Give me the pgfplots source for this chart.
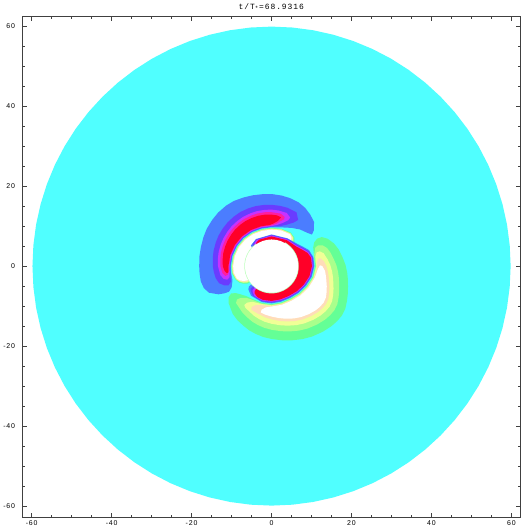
\documentclass[border=0pt]{standalone}
\usepackage{fontspec}
\setmainfont{Liberation Mono}
\newfontfamily\monosp[LetterSpace=12]{Liberation Mono}
\newfontfamily\ticksf[LetterSpace=12]{Liberation Sans}
\usepackage{pgfplots}
\pgfplotsset{compat=1.18}
\definecolor{cy}{RGB}{80,255,255}
\definecolor{cblue}{RGB}{75,125,255}
\definecolor{cviol}{RGB}{105,60,255}
\definecolor{cmag}{RGB}{200,50,255}
\definecolor{cpink}{RGB}{255,30,160}
\definecolor{cred}{RGB}{255,0,40}
\definecolor{cgreen}{RGB}{100,255,150}
\definecolor{clgreen}{RGB}{170,255,140}
\definecolor{cyel}{RGB}{240,255,150}
\definecolor{cpeach}{RGB}{255,220,185}
\definecolor{cring}{RGB}{190,255,190}
\begin{document}
\begin{tikzpicture}
\begin{axis}[
  width=500.5pt, height=503pt, scale only axis,
  xmin=-62.4, xmax=62.3, ymin=-62.7, ymax=62.4,
  xtick={-60,-40,-20,0,20,40,60}, ytick={-60,-40,-20,0,20,40,60},
  minor tick num=3,
  tick align=inside,
  major tick length=4.5pt, minor tick length=2.5pt,
  axis line style={line width=0.5pt, black!75},
  tick style={black!75, line width=0.5pt},
  tick label style={font=\ticksf\fontsize{7}{8}\selectfont, black},
  yticklabel style={xshift=-3.5pt},
  /pgf/number format/assume math mode=true,
  title={t/T\textsubscript{*}=68.9316},
  title style={font=\monosp\fontsize{8}{9}\selectfont, yshift=-4pt},
  every axis plot/.append style={data cs=polar, draw=none},
]
% outer disk
\addplot[fill=cy] coordinates {(0,59.8)(5,59.8)(10,59.8)(15,59.8)(20,59.8)(25,59.8)(30,59.8)(35,59.8)(40,59.8)(45,59.8)(50,59.8)(55,59.8)(60,59.8)(65,59.8)(70,59.8)(75,59.8)(80,59.8)(85,59.8)(90,59.8)(95,59.8)(100,59.8)(105,59.8)(110,59.8)(115,59.8)(120,59.8)(125,59.8)(130,59.8)(135,59.8)(140,59.8)(145,59.8)(150,59.8)(155,59.8)(160,59.8)(165,59.8)(170,59.8)(175,59.8)(180,59.8)(185,59.8)(190,59.8)(195,59.8)(200,59.8)(205,59.8)(210,59.8)(215,59.8)(220,59.8)(225,59.8)(230,59.8)(235,59.8)(240,59.8)(245,59.8)(250,59.8)(255,59.8)(260,59.8)(265,59.8)(270,59.8)(275,59.8)(280,59.8)(285,59.8)(290,59.8)(295,59.8)(300,59.8)(305,59.8)(310,59.8)(315,59.8)(320,59.8)(325,59.8)(330,59.8)(335,59.8)(340,59.8)(345,59.8)(350,59.8)(355,59.8)};
% positive inner arc (upper left)
\addplot[fill=cgreen] coordinates {(44,6.3)(45,7.4)(47,8.4)(51,9.1)(60,9.65)(75,9.65)(90,9.55)(105,9.55)(120,9.65)(135,9.75)(150,9.85)(165,9.95)(180,10.05)(190,10.05)(200,9.65)(207,9.05)(212,8.3)(216,7.4)(217,6.3)(180,6.0)(130,6.0)(80,6.0)};
\addplot[fill=clgreen] coordinates {(46,6.3)(46.5,7.4)(48.5,8.3)(52,9.0)(60,9.53)(75,9.53)(90,9.43)(105,9.43)(120,9.53)(135,9.63)(150,9.73)(165,9.83)(180,9.93)(190,9.93)(200,9.53)(206,8.95)(211,8.2)(214.5,7.35)(215.5,6.3)(180,6.0)(130,6.0)(80,6.0)};
\addplot[fill=cyel] coordinates {(47.5,6.3)(48,7.4)(50,8.2)(53,8.9)(60,9.42)(75,9.42)(90,9.32)(105,9.32)(120,9.42)(135,9.52)(150,9.62)(165,9.72)(180,9.82)(190,9.82)(200,9.42)(205.5,8.85)(210,8.1)(213,7.3)(214,6.3)(180,6.0)(130,6.0)(80,6.0)};
\addplot[fill=cpeach] coordinates {(49,6.3)(49.5,7.4)(51.5,8.1)(54,8.8)(60,9.31)(75,9.31)(90,9.21)(105,9.21)(120,9.31)(135,9.41)(150,9.51)(165,9.61)(180,9.71)(190,9.71)(200,9.31)(205,8.75)(209,8.0)(211.5,7.25)(212.5,6.3)(180,6.0)(130,6.0)(80,6.0)};
\addplot[fill=white] coordinates {(50.5,6.3)(51,7.4)(53,8.0)(55,8.7)(60,9.2)(75,9.2)(90,9.1)(105,9.1)(120,9.2)(135,9.3)(150,9.4)(165,9.5)(180,9.6)(190,9.6)(200,9.2)(204.5,8.65)(208,7.9)(210,7.2)(211,6.3)(180,6.0)(130,6.0)(80,6.0)};
% negative outer lobe (upper left)
\addplot[fill=cblue] coordinates {(38,12.8)(40,13.8)(46,15.3)(53,16.1)(60,16.8)(67,17.3)(75,17.6)(82,17.8)(90,18.0)(97,18.1)(105,18.3)(112,18.5)(120,18.8)(127,18.9)(135,18.9)(142,18.8)(150,18.7)(157,18.5)(165,18.3)(172,18.2)(180,18.1)(186,18.1)(192,18.1)(198,17.8)(203,17.0)(208,15.0)(210,13.6)(211,12.4)(208,11.3)(200,10.4)(190,10.25)(180,10.2)(165,10.1)(150,10.0)(135,9.9)(120,9.8)(105,9.7)(90,9.7)(75,10.0)(62,10.8)(52,11.6)(43,12.2)};
\addplot[fill=cviol] coordinates {(60,13.3)(65,14.8)(75,15.1)(82,15.2)(90,15.3)(97,15.4)(105,15.5)(112,15.55)(120,15.6)(127,15.55)(135,15.5)(142,15.4)(150,15.3)(157,15.15)(165,15.0)(172,14.85)(180,14.7)(186,14.5)(192,14.3)(198,13.8)(202,12.8)(204,11.8)(201,10.9)(190,10.4)(180,10.35)(165,10.25)(150,10.15)(135,10.05)(120,9.95)(105,9.85)(90,9.85)(78,10.2)(70,11.0)(63,12.2)};
\addplot[fill=cmag] coordinates {(69,13.0)(74,13.8)(83,14.0)(90,14.1)(97,14.15)(105,14.2)(112,14.2)(120,14.2)(127,14.15)(135,14.1)(142,14.0)(150,13.9)(157,13.8)(165,13.7)(172,13.55)(180,13.4)(190,13.0)(195,12.4)(197,11.6)(195,10.9)(188,10.55)(180,10.5)(165,10.4)(150,10.3)(135,10.2)(120,10.1)(105,10.0)(90,10.0)(82,10.4)(75,11.2)(70,12.2)};
\addplot[fill=cpink] coordinates {(75,12.7)(80,13.3)(90,13.45)(97,13.55)(105,13.6)(112,13.6)(120,13.6)(127,13.55)(135,13.5)(142,13.4)(150,13.3)(157,13.2)(165,13.1)(172,12.95)(180,12.8)(188,12.4)(192,11.8)(191,11.1)(186,10.7)(180,10.65)(165,10.55)(150,10.45)(135,10.35)(120,10.25)(105,10.15)(90,10.15)(84,10.6)(79,11.4)(75,12.1)};
\addplot[fill=cred] coordinates {(79,12.4)(84,12.75)(90,12.85)(97,12.95)(105,13.0)(112,13.0)(120,13.0)(127,12.95)(135,12.9)(142,12.8)(150,12.7)(157,12.6)(165,12.5)(172,12.35)(180,12.2)(186,11.8)(189,11.3)(188,10.9)(180,10.8)(165,10.7)(150,10.6)(135,10.5)(120,10.4)(105,10.3)(92,10.3)(87,10.7)(82,11.4)(80,12.0)};
% positive outer arm (lower right)
\addplot[fill=cgreen] coordinates {(216,13.3)(221,14.2)(231,15.4)(238,16.0)(245,16.5)(251,17.0)(257,17.4)(263,17.8)(270,18.2)(278,18.7)(285,19.2)(293,19.8)(300,20.3)(308,20.8)(315,21.2)(320,21.4)(325,21.5)(330,21.3)(335,20.8)(340,20.3)(345,19.8)(350,19.4)(355,19.0)(361,18.5)(367,17.9)(374,17.3)(380,16.6)(386,15.6)(390,14.5)(391,13.3)(389,12.2)(384,11.4)(372,10.9)(360,10.9)(345,10.6)(330,10.1)(315,9.7)(300,9.4)(285,9.4)(270,9.5)(255,9.5)(240,9.5)(230,9.8)(222,10.5)(217,11.2)(214,12.2)};
\addplot[fill=clgreen] coordinates {(226,12.8)(231,13.1)(238,13.7)(245,14.2)(251,14.7)(257,15.1)(263,15.5)(270,15.9)(278,16.4)(285,16.9)(293,17.5)(300,18.0)(308,18.5)(315,18.9)(320,19.1)(325,19.2)(330,19.0)(335,18.5)(340,18.0)(345,17.5)(350,17.1)(355,16.7)(361,16.2)(367,15.6)(373,15.1)(378,14.6)(382,13.8)(384,12.8)(383,11.9)(375,11.05)(360,11.05)(345,10.75)(330,10.25)(315,9.85)(300,9.55)(285,9.55)(270,9.65)(255,9.65)(240,9.7)(232,10.1)(226,11.0)(224,12.0)};
\addplot[fill=cyel] coordinates {(238,12.3)(245,12.7)(251,13.2)(257,13.6)(263,14.0)(270,14.4)(278,14.9)(285,15.4)(293,16.0)(300,16.5)(308,17.0)(315,17.4)(320,17.6)(325,17.7)(330,17.5)(335,17.0)(340,16.5)(345,16.0)(350,15.6)(355,15.2)(361,14.7)(367,14.1)(374,13.4)(377,12.6)(377,11.8)(372,11.2)(360,11.2)(345,10.9)(330,10.4)(315,10.0)(300,9.7)(285,9.7)(270,9.8)(255,9.8)(242,10.1)(236,11.0)(235,11.9)};
\addplot[fill=cpeach] coordinates {(250,12.2)(257,12.5)(263,12.9)(270,13.3)(278,13.8)(285,14.3)(293,14.9)(300,15.4)(308,15.9)(315,16.3)(320,16.5)(325,16.6)(330,16.4)(335,15.9)(340,15.4)(345,14.9)(350,14.5)(355,14.1)(360,13.7)(365,13.2)(369,12.4)(369,11.8)(365,11.4)(355,11.35)(345,11.05)(330,10.55)(315,10.15)(300,9.85)(285,9.85)(270,9.95)(255,10.1)(248,10.5)(244,11.3)(245,12.0)};
\addplot[fill=white] coordinates {(262,12.2)(270,12.6)(278,13.1)(285,13.6)(293,14.2)(300,14.7)(308,15.2)(315,15.6)(320,15.8)(325,15.9)(330,15.7)(335,15.2)(340,14.7)(345,14.2)(350,13.8)(355,13.4)(360,12.7)(361,12.1)(356,11.6)(345,11.2)(330,10.7)(315,10.3)(300,10.0)(285,10.0)(270,10.1)(262,10.4)(257,11.2)(257,11.9)};
% negative inner arc (hugging the hole)
\addplot[fill=cblue] coordinates {(222,7.6)(225,8.2)(235,9.0)(255,9.3)(270,9.3)(285,9.2)(300,9.2)(315,9.5)(330,9.9)(345,10.4)(360,10.7)(372,10.7)(383,10.2)(391,9.3)(401,8.5)(420,8.0)(450,7.9)(480,7.8)(495,7.3)(497,6.6)(495,6.0)(440,6.0)(380,6.0)(320,6.0)(260,6.0)(222,6.8)};
\addplot[fill=cviol] coordinates {(227,7.7)(230,8.1)(238,8.8)(255,9.1)(270,9.1)(285,9.0)(300,9.0)(315,9.3)(330,9.7)(345,10.2)(360,10.5)(372,10.5)(382,10.0)(390,9.1)(400,8.3)(420,7.85)(450,7.75)(480,7.65)(491,7.2)(493,6.6)(491,6.0)(440,6.0)(380,6.0)(320,6.0)(260,6.0)(228,6.5)};
\addplot[fill=cmag] coordinates {(232,7.7)(234,8.0)(240,8.6)(255,8.9)(270,8.9)(285,8.8)(300,8.8)(315,9.1)(330,9.5)(345,10.0)(360,10.3)(372,10.3)(381,9.8)(389,8.9)(399,8.1)(420,7.7)(450,7.6)(480,7.5)(487,7.1)(489,6.6)(487,6.0)(440,6.0)(380,6.0)(320,6.0)(260,6.0)(232,6.8)};
\addplot[fill=cred] coordinates {(236,7.5)(238,8.0)(245,8.5)(255,8.7)(270,8.7)(285,8.6)(300,8.6)(315,8.9)(330,9.3)(345,9.8)(360,10.1)(372,10.1)(380,9.6)(388,8.7)(398,7.9)(420,7.5)(450,7.4)(475,7.3)(483,7.0)(485,6.6)(483,6.0)(440,6.0)(380,6.0)(320,6.0)(260,6.0)(236,6.8)};
% thin near-zero ring at the inner boundary
\addplot[fill=cring] coordinates {(125,6.82)(135,6.82)(145,6.82)(155,6.82)(165,6.82)(175,6.82)(185,6.82)(195,6.82)(205,6.82)(215,6.82)(225,6.82)(235,6.82)(245,6.82)(255,6.82)(265,6.82)(275,6.82)(285,6.82)(295,6.82)(305,6.82)(315,6.82)(325,6.82)(335,6.82)(345,6.82)(355,6.82)(365,6.82)(375,6.82)(385,6.82)(395,6.82)(405,6.82)(415,6.82)(420,6.82)(420,6.0)(360,6.0)(300,6.0)(240,6.0)(180,6.0)(125,6.0)};
% central hole
\addplot[fill=white] coordinates {(0,6.65)(10,6.65)(20,6.65)(30,6.65)(40,6.65)(50,6.65)(60,6.65)(70,6.65)(80,6.65)(90,6.65)(100,6.65)(110,6.65)(120,6.65)(130,6.65)(140,6.65)(150,6.65)(160,6.65)(170,6.65)(180,6.65)(190,6.65)(200,6.65)(210,6.65)(220,6.65)(230,6.65)(240,6.65)(250,6.65)(260,6.65)(270,6.65)(280,6.65)(290,6.65)(300,6.65)(310,6.65)(320,6.65)(330,6.65)(340,6.65)(350,6.65)};
\end{axis}
\end{tikzpicture}
\end{document}
